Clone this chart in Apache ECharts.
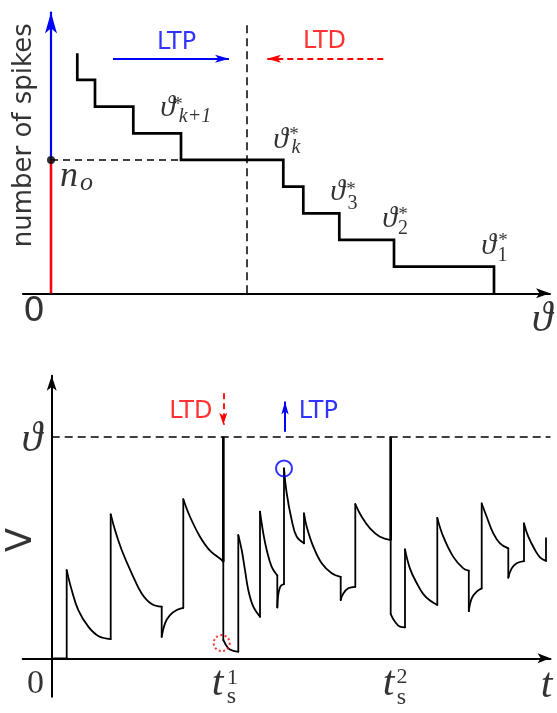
<!DOCTYPE html>
<html>
<head>
<meta charset="utf-8">
<script src="https://cdn.jsdelivr.net/npm/echarts@6/dist/echarts.min.js"></script>
<style>
  html, body { margin: 0; padding: 0; background: #fff; }
  #chart { width: 557px; height: 713px; }
</style>
</head>
<body>
<div id="chart"></div>
<script>
// ---------- top panel: number of output spikes vs. threshold ----------
// thresholds where the spike count drops by one (left to right)
const thetaStar = [2.63, 4.4, 8.23, 13.0, 23.23, 25.23, 28.83, 34.3, 44.3];
// spike count just left of each threshold
const spikeCounts = [9, 8, 7, 6, 5, 4, 3, 2, 1];
// labelled thresholds: index into thetaStar and subscript text
const starIndex = [3, 4, 6, 7, 8];
const starSubs = ['k+1', 'k', '3', '2', '1'];
const nO = 5;               // current number of spikes
const thetaNow = 19.6;      // current threshold
const thetaGuideTop = 10.06;
const arrowLevelTop = 8.8;
const ltpSpanTop = [6.2, 17.8];
const ltdSpanTop = [33.23, 21.6];

// ---------- bottom panel: membrane potential, threshold = 100 ----------
const thetaV = 100;
const spikeTimes = [34.32, 67.8];
const traceSegments = [
  [[0, 0], [3.0, 0]],
  [[3.0, 39.8], [4.0, 30.8], [5.32, 21.8], [7.32, 14.3], [9.32, 10.1], [11.8, 8.7]],
  [[11.8, 65.0], [12.66, 57.9], [14.0, 48.9], [16.0, 38.4], [18.0, 29.3], [20.0, 24.5], [22.0, 23.3]],
  [[22.0, 9.7], [22.66, 15.8], [23.66, 19.5], [25.0, 21.8], [26.32, 22.8]],
  [[26.32, 71.8], [27.66, 63.9], [29.66, 54.9], [31.66, 48.6], [34.0, 44.4], [34.32, 43.6]],
  [[34.32, 8.3], [35.32, 4.5], [36.32, 3.4], [37.32, 3.0]],
  [[37.32, 55.6], [38.0, 48.9], [38.66, 39.8], [39.32, 30.8], [40.32, 23.3], [41.66, 18.8]],
  [[41.66, 66.2], [42.32, 56.4], [43.0, 48.9], [44.0, 41.3], [45.12, 37.4]],
  [[45.12, 23.0], [45.26, 27.8], [45.52, 31.1], [45.92, 32.9], [46.46, 33.5]],
  [[46.46, 85.7], [47.0, 74.5], [48.0, 62.4], [49.0, 54.9], [50.46, 51.9]],
  [[50.46, 65.4], [51.0, 59.4], [52.32, 50.4], [54.0, 42.9], [56.0, 38.4], [57.8, 36.8]],
  [[57.8, 26.3], [58.32, 29.3], [59.32, 31.6], [60.72, 32.3]],
  [[60.72, 69.6], [62.0, 63.9], [63.66, 58.7], [65.66, 54.9], [67.8, 53.4]],
  [[67.8, 20.0], [68.66, 16.5], [69.66, 14.3], [70.66, 14.0]],
  [[70.66, 49.2], [71.66, 40.5], [73.0, 34.0], [74.32, 29.0], [75.66, 26.1], [77.12, 24.1]],
  [[77.12, 63.4], [78.32, 54.9], [80.32, 45.8], [82.32, 40.6], [83.42, 39.6]],
  [[83.42, 21.3], [84.0, 27.1], [85.0, 30.1], [86.0, 31.6]],
  [[86.0, 69.9], [87.0, 63.9], [88.32, 56.4], [89.66, 51.9], [91.32, 49.6]],
  [[91.32, 36.4], [92.0, 40.6], [93.0, 42.9], [94.46, 43.9]],
  [[94.46, 60.9], [95.32, 54.9], [96.66, 48.9], [97.66, 45.6], [98.86, 44.0]],
  [[98.86, 54.2]]
];
const ltdMark = { t: 34.32, from: 119.6, to: 105.4 };
const ltpMark = { t: 46.66, from: 102.3, to: 115.9 };
const resetMark = [34.0, 6.9];
const peakMark = [46.46, 85.7];

// ---------- derived series data ----------
const staircase = [];
thetaStar.forEach((th, i) => {
  staircase.push([th, spikeCounts[i]], [th, spikeCounts[i] - 1]);
});

const isSpike = t => spikeTimes.some(s => Math.abs(s - t) < 1e-6);
const curveData = [];
const jumpData = [];
const spikeData = [];
traceSegments.forEach((seg, i) => {
  seg.forEach(p => curveData.push(p));
  curveData.push([seg[seg.length - 1][0], null]);
  if (i < traceSegments.length - 1) {
    const end = seg[seg.length - 1];
    const next = traceSegments[i + 1][0];
    jumpData.push(end);
    if (isSpike(end[0])) {
      jumpData.push([end[0], thetaV]);
      spikeData.push(end, [end[0], thetaV], [end[0], null]);
    }
    jumpData.push(next, [next[0], null]);
  }
});

// ---------- styling helpers ----------
const SANS = '"DejaVu Sans", Verdana, sans-serif';
const SERIF = '"Liberation Serif", "DejaVu Serif", serif';
const BLUE = '#0000ff', RED = '#ff0000', BLACK = '#000000';

// dx, dy are screen offsets; rotated labels get their offset turned accordingly
function text(anchor, str, dx, dy, o) {
  o = o || {};
  const rot = o.rotate || 0;
  const off = rot === 90 ? [-dy, dx] : [dx, dy];
  return {
    value: anchor,
    label: {
      show: true,
      position: 'inside',
      offset: off,
      formatter: () => str,
      fontFamily: o.family || SERIF,
      fontSize: o.size || 24,
      fontStyle: o.italic ? 'italic' : 'normal',
      color: o.color || BLACK,
      rotate: rot,
      align: 'center',
      verticalAlign: 'middle'
    }
  };
}

function seg(from, to, style, arrow) {
  return [
    { coord: from, symbol: 'none', lineStyle: style },
    { coord: to, symbol: arrow ? 'arrow' : 'none', symbolSize: arrow || 0 }
  ];
}

function markSeries(gi, color, segs) {
  return {
    type: 'line', xAxisIndex: gi, yAxisIndex: gi, data: [], color: color,
    silent: true, animation: false,
    markLine: {
      silent: true, symbol: 'none', animation: false,
      label: { show: false }, emphasis: { disabled: true },
      data: segs
    }
  };
}

// labels of the top panel
const topLabels = [
  text([0, 6], 'number of spikes', -27, 2, { family: SANS, size: 26, rotate: 90 }),
  text([0, 0], '0', -17, 19, { family: SANS, size: 34 }),
  text([thetaStar[thetaStar.length - 1] + 5.6, 0], '\u03d1', -8, 27, { size: 42, italic: true }),
  text([0, nO], 'n', 18, 17, { size: 36, italic: true }),
  text([0, nO], 'o', 35.5, 23.5, { size: 26, italic: true }),
  text([12.55, 9.4], 'LTP', 0, 0, { family: SANS, size: 24, color: BLUE }),
  text([27.35, 9.43], 'LTD', 0, 0, { family: SANS, size: 24, color: RED })
];
const starOffsets = [
  [[-13.5, -25.5], [-3, -28], [14, -16.5]],
  [[-2.8, -20], [10.7, -25], [12.7, -12]],
  [[-1.8, -20.8], [11.7, -23.3], [13.2, -9.8]],
  [[-4.5, -20.5], [9, -25], [9, -11]],
  [[-5.5, -21], [9, -25.6], [8.5, -10.6]]
];
starIndex.forEach((idx, j) => {
  const a = [thetaStar[idx], spikeCounts[idx]];
  const off = starOffsets[j];
  const sub = starSubs[j];
  const subItalic = /k/.test(sub);
  topLabels.push(
    text(a, '\u03d1', off[0][0], off[0][1], { size: 30, italic: true }),
    text(a, '*', off[1][0], off[1][1], { size: 19 }),
    text(a, sub, off[2][0], off[2][1], { size: 20, italic: subItalic })
  );
});

// labels of the bottom panel
const bottomLabels = [
  text([0, 50], 'V', -30, -7.5, { family: SANS, size: 35, rotate: 90 }),
  text([0, thetaV], '\u03d1', -20, 3.3, { size: 42, italic: true }),
  text([0, 0], '0', -16.2, 25.7, { size: 34 }),
  text([spikeTimes[0], 0], 't', -5.8, 25.2, { size: 42, italic: true }),
  text([spikeTimes[0], 0], '1', 9.2, 19.7, { size: 22 }),
  text([spikeTimes[0], 0], 's', 8.2, 38.7, { size: 24 }),
  text([spikeTimes[1], 0], 't', -2.2, 25.7, { size: 42, italic: true }),
  text([spikeTimes[1], 0], '2', 11.3, 19, { size: 22 }),
  text([spikeTimes[1], 0], 's', 10.8, 39.2, { size: 24 }),
  text([99.76, 0], 't', -3.8, 27.2, { size: 42, italic: true }),
  text([27.82, 111.3], 'LTD', 0, 0, { family: SANS, size: 24, color: RED }),
  text([53.32, 111.3], 'LTP', 0, 0, { family: SANS, size: 24, color: BLUE })
];

const hidden = { show: false };
function axis(gi, min, max, color, width, arrowSize) {
  return {
    type: 'value', gridIndex: gi, min: min, max: max,
    axisLine: {
      show: true, onZero: true,
      symbol: ['none', 'arrow'], symbolSize: arrowSize,
      lineStyle: { color: color, width: width }
    },
    axisTick: hidden, axisLabel: hidden, splitLine: hidden, splitArea: hidden
  };
}

const option = {
  animation: false,
  backgroundColor: '#ffffff',
  grid: [
    { left: 23, right: 7, top: 12.5, bottom: 419.7, containLabel: false },
    { left: 22.7, right: 6.5, top: 375.8, bottom: 16.3, containLabel: false }
  ],
  xAxis: [
    axis(0, -2.8, 49.9, BLACK, 2.2, [7.5, 14]),
    axis(1, -5.8, 99.76, BLACK, 2, [7.5, 13])
  ],
  yAxis: [
    axis(0, 0, 10.53, BLUE, 2.2, [9, 21]),
    axis(1, -17.3, 127.5, BLACK, 2, [7.5, 15])
  ],
  series: [
    // spike-count staircase
    {
      type: 'line', xAxisIndex: 0, yAxisIndex: 0, data: staircase,
      showSymbol: false, symbol: 'none', silent: true,
      lineStyle: { color: BLACK, width: 2.7, join: 'miter' }
    },
    markSeries(0, BLACK, [
      seg([0, nO], [thetaStar[3], nO], { color: BLACK, width: 1.5, type: [7, 5] }),
      seg([thetaNow, 0], [thetaNow, thetaGuideTop], { color: BLACK, width: 1.5, type: [8, 5] })
    ]),
    markSeries(0, RED, [
      seg([0, 0], [0, nO], { color: RED, width: 2.4, type: 'solid' }),
      seg([ltdSpanTop[0], arrowLevelTop], [ltdSpanTop[1], arrowLevelTop], { color: RED, width: 1.8, type: [6, 4] }, [6, 14])
    ]),
    markSeries(0, BLUE, [
      seg([ltpSpanTop[0], arrowLevelTop], [ltpSpanTop[1], arrowLevelTop], { color: BLUE, width: 1.8, type: 'solid' }, [6, 14])
    ]),
    {
      type: 'scatter', xAxisIndex: 0, yAxisIndex: 0, data: [[0, nO]], z: 10,
      symbol: 'circle', symbolSize: 8, silent: true, itemStyle: { color: BLACK }
    },
    {
      type: 'scatter', xAxisIndex: 0, yAxisIndex: 0, data: topLabels, z: 12,
      symbolSize: 1, silent: true, clip: false, itemStyle: { color: 'rgba(0,0,0,0)' }
    },

    // membrane potential trace
    {
      type: 'line', xAxisIndex: 1, yAxisIndex: 1, data: curveData,
      smooth: 0.4, connectNulls: false, showSymbol: false, symbol: 'none', silent: true,
      lineStyle: { color: BLACK, width: 1.8, cap: 'round', join: 'round' }
    },
    {
      type: 'line', xAxisIndex: 1, yAxisIndex: 1, data: jumpData,
      connectNulls: false, showSymbol: false, symbol: 'none', silent: true,
      lineStyle: { color: BLACK, width: 1.8, cap: 'round', join: 'miter' }
    },
    {
      type: 'line', xAxisIndex: 1, yAxisIndex: 1, data: spikeData,
      connectNulls: false, showSymbol: false, symbol: 'none', silent: true,
      lineStyle: { color: BLACK, width: 2.6 }
    },
    markSeries(1, BLACK, [
      seg([0, thetaV], [99.76, thetaV], { color: BLACK, width: 1.6, type: [8, 5] })
    ]),
    markSeries(1, RED, [
      seg([ltdMark.t, ltdMark.from], [ltdMark.t, ltdMark.to], { color: RED, width: 1.8, type: [6, 4] }, [6, 12])
    ]),
    markSeries(1, BLUE, [
      seg([ltpMark.t, ltpMark.from], [ltpMark.t, ltpMark.to], { color: BLUE, width: 2, type: 'solid' }, [5.5, 13])
    ]),
    {
      type: 'scatter', xAxisIndex: 1, yAxisIndex: 1, z: 10, silent: true,
      symbol: 'circle', symbolSize: 16,
      data: [
        { value: peakMark, itemStyle: { color: 'rgba(0,0,0,0)', borderColor: BLUE, borderWidth: 2 } },
        { value: resetMark, itemStyle: { color: 'rgba(0,0,0,0)', borderColor: RED, borderWidth: 2, borderType: [2, 2.5] } }
      ]
    },
    {
      type: 'scatter', xAxisIndex: 1, yAxisIndex: 1, data: bottomLabels, z: 12,
      symbolSize: 1, silent: true, clip: false, itemStyle: { color: 'rgba(0,0,0,0)' }
    }
  ]
};

const chart = echarts.init(document.getElementById('chart'), null, { renderer: 'canvas' });
chart.setOption(option);
</script>
</body>
</html>
